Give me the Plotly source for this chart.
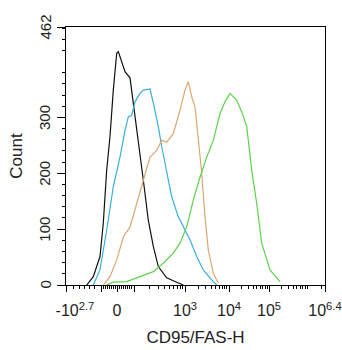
import numpy as np
import plotly.graph_objects as go

# display-coordinate positions (biexponential axis) and counts
black_x = [20.7, 27.3, 34, 37.3, 40.7, 44, 47.3, 50.7, 52.3, 55.7, 59, 64, 67.3, 72.3, 77.3, 82.3, 87.3, 92.3, 100.7, 110.7, 117.3]
black_y = [0, 15, 51, 111, 206, 266, 349, 415, 418, 398, 382, 371, 326, 263, 188, 116, 69, 33, 13, 5, 0]

blue_x = [27.3, 34, 40.7, 47.3, 54, 59, 62.3, 65.7, 69, 74, 77.3, 84, 87.3, 92.3, 95.7, 100.7, 105.7, 112.3, 119, 124, 130.7, 137.3, 145.7, 150.7]
blue_y = [0, 27, 98, 176, 229, 277, 301, 304, 328, 343, 349, 351, 326, 284, 248, 201, 158, 122, 98, 81, 51, 27, 9, 0]

orange_x = [37.3, 44, 50.7, 57.3, 64, 70.7, 77.3, 84, 90.7, 95.7, 100.7, 107.3, 114, 119, 122.3, 125.7, 129, 132.3, 135.7, 139, 142.3, 147.3, 152.3]
orange_y = [0, 15, 45, 86, 104, 146, 188, 229, 241, 259, 256, 271, 313, 349, 364, 337, 319, 265, 201, 122, 63, 21, 3]

green_x = [40.7, 47.3, 60.7, 74, 87.3, 97.3, 107.3, 114, 120.7, 127.3, 134, 140.7, 147.3, 154, 159, 164, 167.3, 170.7, 175.7, 180.7, 185.7, 190.7, 195.7, 204, 214]
green_y = [0, 5, 6, 15, 24, 39, 57, 75, 104, 152, 193, 229, 259, 307, 328, 343, 337, 331, 310, 284, 206, 146, 75, 27, 6]

x_tickvals = [0, 35, 51, 68, 119, 163, 203, 259]
x_ticktext = ["&nbsp;&nbsp;&nbsp;&nbsp;-10<sup>2.7</sup>", "", "0", "", "10<sup>3</sup>", "10<sup>4</sup>", "10<sup>5</sup>", "10<sup>6.4</sup>"]
y_tickvals = [0, 100, 200, 300, 462]
y_ticktext = ["0", "100", "200", "300", "462"]

# minor tick positions on the display axis
minor_x = [7, 13, 18, 23, 28, 37, 39, 41, 43, 45, 47, 49, 53, 55, 57, 59, 61, 63, 65]
for start, width in [(68, 51), (119, 44), (163, 40), (203, 40)]:
    for k in range(2, 10):
        minor_x.append(start + width * np.log10(k))
minor_x += [243 + 40 * np.log10(2)]
minor_y = [v for v in range(20, 462, 20) if v % 100 != 0]

fig = go.Figure()
for xs, ys, col in [(black_x, black_y, "#111111"),
                    (blue_x, blue_y, "#3aaedc"),
                    (orange_x, orange_y, "#dea672"),
                    (green_x, green_y, "#5cd24a")]:
    fig.add_trace(go.Scatter(x=xs, y=ys, mode="lines",
                             line=dict(color=col, width=1.2), showlegend=False))

FAM = "Liberation Sans, Arial, sans-serif"
xtickfont = dict(family=FAM, size=16, color="#222222")
ytickfont = dict(family=FAM, size=15, color="#222222")
titlefont = dict(family=FAM, size=17, color="#222222")

# y tick labels, rotated, placed close to the axis like the reference
for v, t in zip(y_tickvals, y_ticktext):
    fig.add_annotation(x=0, xref="paper", y=v, yref="y", text=t,
                       textangle=-90, showarrow=False, xanchor="center",
                       yanchor="middle", xshift=-21.5, font=ytickfont)

fig.update_layout(
    width=342, height=350,
    margin=dict(l=66, r=17, t=27, b=65),
    paper_bgcolor="white", plot_bgcolor="white",
    font=xtickfont,
    xaxis=dict(range=[0, 259], showgrid=False, zeroline=False, automargin=False,
               showline=True, linecolor="black", linewidth=1.2, mirror=True,
               ticks="outside", ticklen=6, tickwidth=1.2, tickcolor="black",
               tickmode="array", tickvals=x_tickvals, ticktext=x_ticktext,
               tickfont=xtickfont, ticklabelstandoff=5,
               minor=dict(tickmode="array", tickvals=minor_x, ticks="outside",
                          ticklen=3, tickcolor="black", tickwidth=1),
               title=dict(text="CD95/FAS-H", standoff=12, font=titlefont)),
    yaxis=dict(range=[0, 462], showgrid=False, zeroline=False, automargin=False,
               showline=True, linecolor="black", linewidth=1.2, mirror=True,
               ticks="outside", ticklen=8, tickwidth=1.2, tickcolor="black",
               tickmode="array", tickvals=y_tickvals, showticklabels=False,
               minor=dict(tickmode="array", tickvals=minor_y, ticks="outside",
                          ticklen=3, tickcolor="black", tickwidth=1),
               title=dict(text="Count", standoff=29, font=titlefont)),
)
fig.write_html("out.html")
